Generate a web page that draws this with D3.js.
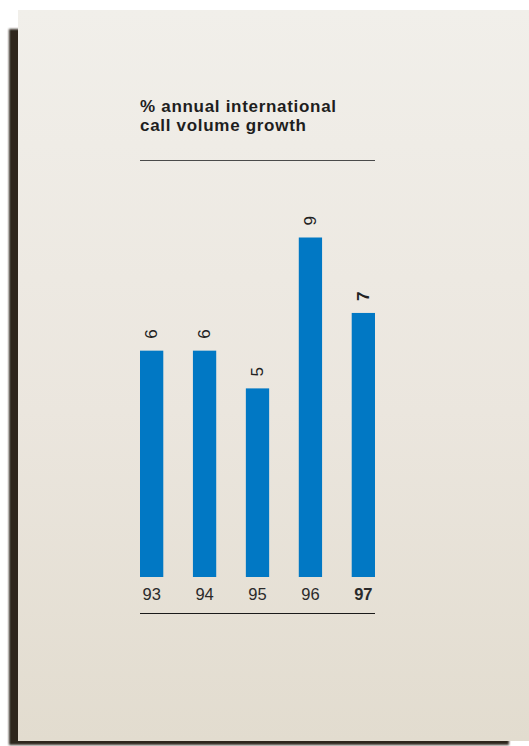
<!DOCTYPE html>
<html>
<head>
<meta charset="utf-8">
<script src="https://cdn.jsdelivr.net/npm/d3@7"></script>
<style>
  html, body { margin: 0; padding: 0; background: #fff; }
  svg { display: block; }
</style>
</head>
<body>
<script>
// DATA
const years = ['93', '94', '95', '96', '97'];
const growth = [6, 6, 5, 9, 7];
const highlightYear = '97';
const titleLines = ['% annual international', 'call volume growth'];

// CONFIGURATION
const width = 529;
const height = 746;
const barColor = '#0178c4';
const font = '"Liberation Sans", Arial, sans-serif';

const svg = d3.select('body')
  .append('svg')
  .attr('width', width)
  .attr('height', height);

const defs = svg.append('defs');
defs.append('filter')
  .attr('id', 'blur')
  .append('feGaussianBlur')
  .attr('stdDeviation', 1.2);
const grad = defs.append('linearGradient')
  .attr('id', 'paper')
  .attr('x1', 0).attr('y1', 0)
  .attr('x2', 0).attr('y2', 1);
grad.append('stop').attr('offset', '0%').attr('stop-color', '#f1efea');
grad.append('stop').attr('offset', '55%').attr('stop-color', '#ebe6de');
grad.append('stop').attr('offset', '100%').attr('stop-color', '#e2dccf');

// CARD + SHADOW
svg.append('rect')
  .attr('x', 9).attr('y', 29)
  .attr('width', 500).attr('height', 716)
  .attr('fill', '#2e281e')
  .attr('filter', 'url(#blur)');
svg.append('rect')
  .attr('x', 18).attr('y', 10)
  .attr('width', 511).attr('height', 731)
  .attr('fill', 'url(#paper)');

// TITLE
svg.append('text')
  .attr('font-family', font)
  .attr('font-weight', 'bold')
  .attr('font-size', 17)
  .attr('letter-spacing', 0.7)
  .attr('fill', '#1e1e1e')
  .selectAll('tspan')
  .data(titleLines)
  .join('tspan')
  .attr('x', 140)
  .attr('y', (d, i) => 112 + i * 19)
  .text(d => d);

// SCALES
const x = d3.scaleBand()
  .domain(years)
  .range([140, 375])
  .paddingInner(0.56)
  .paddingOuter(0);
const y = d3.scaleLinear()
  .domain([0, 9])
  .range([577, 237.5]);

// RULES
svg.append('line')
  .attr('x1', 140).attr('x2', 375)
  .attr('y1', 160.5).attr('y2', 160.5)
  .attr('stroke', '#4a4a4a')
  .attr('stroke-width', 1.2);
svg.append('line')
  .attr('x1', 140).attr('x2', 375)
  .attr('y1', 613.5).attr('y2', 613.5)
  .attr('stroke', '#1a1a1a')
  .attr('stroke-width', 1.2);

// BARS
svg.selectAll('rect.bar')
  .data(growth)
  .join('rect')
  .attr('class', 'bar')
  .attr('x', (d, i) => x(years[i]))
  .attr('y', d => y(d))
  .attr('width', x.bandwidth())
  .attr('height', d => y(0) - y(d))
  .attr('fill', barColor);

// VALUE LABELS (rotated, reading bottom to top)
svg.selectAll('text.value')
  .data(growth)
  .join('text')
  .attr('class', 'value')
  .attr('transform', (d, i) => `translate(${x(years[i]) + x.bandwidth() / 2}, ${y(d) - 12}) rotate(-90)`)
  .attr('text-anchor', 'start')
  .attr('dominant-baseline', 'central')
  .attr('font-family', font)
  .attr('font-size', 17)
  .attr('font-weight', (d, i) => years[i] === highlightYear ? 'bold' : 'normal')
  .attr('fill', '#222')
  .text(d => d);

// YEAR LABELS
const xAxis = d3.axisBottom(x).tickSize(0).tickPadding(0);
const axisG = svg.append('g')
  .attr('transform', 'translate(0, 588)')
  .call(xAxis);
axisG.select('.domain').remove();
axisG.selectAll('text')
  .attr('dy', '0.71em')
  .attr('font-family', font)
  .attr('font-size', 16.5)
  .attr('fill', '#2a2a2a')
  .attr('font-weight', d => d === highlightYear ? 'bold' : 'normal');
</script>
</body>
</html>
